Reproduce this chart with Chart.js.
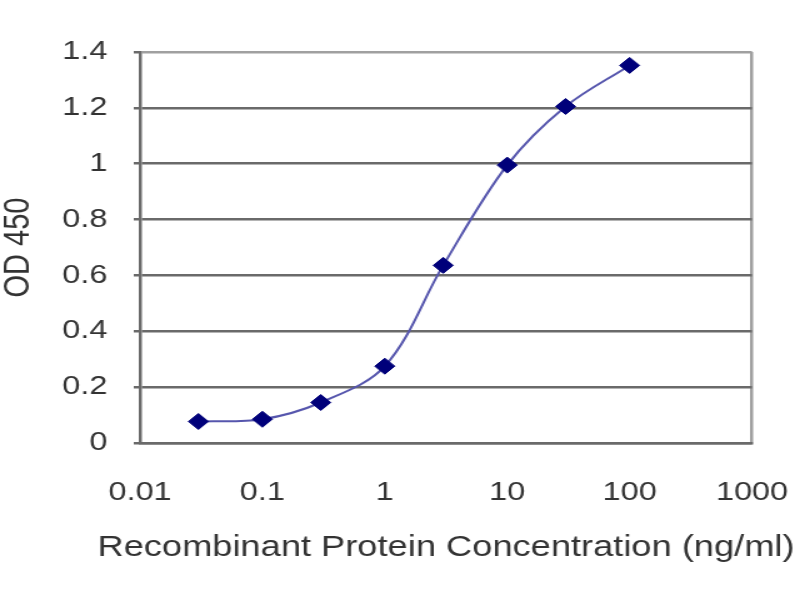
<!DOCTYPE html>
<html>
<head>
<meta charset="utf-8">
<script src="https://cdn.jsdelivr.net/npm/chart.js@4"></script>
<style>
  html, body { margin: 0; padding: 0; background: #fff; }
</style>
</head>
<body>
<!-- the reference is stretched sideways, so the canvas is drawn narrow and widened by css -->
<canvas id="chart" width="640" height="600" style="display:block;width:800px;height:600px"></canvas>
<script>
// concentration (ng/ml) and OD 450 readings
var concentration = [0.03, 0.1, 0.3, 1, 3, 10, 30, 100];
var od450 = [0.077, 0.085, 0.145, 0.275, 0.636, 0.995, 1.205, 1.352];

// tick labels
var xTicks = [0.01, 0.1, 1, 10, 100, 1000];
var yTicks = [0, 0.2, 0.4, 0.6, 0.8, 1, 1.2, 1.4];

var xTitle = 'Recombinant Protein Concentration (ng/ml)';
var yTitle = 'OD 450';

var gridGray = '#6a6a6a';
var frameGray = '#a0a0a0';
var textGray = '#333333';
var fontFamily = 'Liberation Sans, Arial, sans-serif';

var points = concentration.map(function (c, i) {
    return { x: c, y: od450[i] };
});

// the scale title gets squeezed to the plot width, the reference's is wider,
// so the x title is written here without a max width
var xTitlePlugin = {
    id: 'xTitle',
    afterDraw: function (chart) {
        var area = chart.chartArea;
        var c = chart.ctx;
        c.save();
        c.font = '29px ' + fontFamily;
        c.fillStyle = textGray;
        c.textAlign = 'center';
        c.textBaseline = 'middle';
        c.fillText(xTitle, (area.left + area.right) / 2, area.bottom + 105);
        c.restore();
    }
};

var ctx = document.getElementById('chart').getContext('2d');
var chart = new Chart(ctx, {
    type: 'line',
    data: {
        datasets: [{
            label: yTitle,
            data: points,
            borderColor: '#5656ad',
            borderWidth: 2,
            tension: 0.35,
            pointStyle: 'rectRot',
            pointRadius: 8,
            pointBackgroundColor: '#00007a',
            pointBorderColor: '#00007a',
            pointBorderWidth: 1,
            clip: false
        }]
    },
    plugins: [xTitlePlugin],
    options: {
        responsive: false,
        animation: false,
        devicePixelRatio: 1,
        layout: {
            padding: { left: 0, right: 38.4, top: 52, bottom: 0 }
        },
        plugins: {
            legend: { display: false },
            tooltip: { enabled: false }
        },
        scales: {
            x: {
                type: 'logarithmic',
                min: 0.01,
                max: 1000,
                afterBuildTicks: function (scale) {
                    scale.ticks = xTicks.map(function (v) { return { value: v }; });
                },
                afterFit: function (scale) { scale.height = 157; },
                border: { display: true, color: gridGray, width: 2.5 },
                grid: {
                    color: function (c) {
                        return c.tick && c.tick.value === 1000 ? frameGray : 'rgba(0,0,0,0)';
                    },
                    lineWidth: 2.5,
                    // long invisible ticks push the labels down without widening the right side
                    tickColor: 'rgba(0,0,0,0)',
                    tickLength: 34
                },
                ticks: {
                    autoSkip: false,
                    maxRotation: 0,
                    padding: 0,
                    color: textGray,
                    font: { family: fontFamily, size: 26 },
                    callback: function (value) { return String(value); }
                }
            },
            y: {
                min: 0,
                max: 1.4,
                afterBuildTicks: function (scale) {
                    scale.ticks = yTicks.map(function (v) { return { value: v }; });
                },
                afterFit: function (scale) { scale.width = 112; },
                border: { display: true, color: gridGray, width: 2.5 },
                grid: {
                    color: function (c) {
                        return c.tick && c.tick.value === 1.4 ? frameGray : gridGray;
                    },
                    lineWidth: 2.5,
                    tickColor: gridGray,
                    tickLength: 5
                },
                ticks: {
                    padding: 21,
                    color: textGray,
                    font: { family: fontFamily, size: 26 },
                    callback: function (value) { return String(value); }
                },
                title: {
                    display: true,
                    text: yTitle,
                    color: textGray,
                    font: { family: fontFamily, size: 29, lineHeight: 1 },
                    padding: { top: 0, bottom: 0 }
                }
            }
        }
    }
});
// make sure the sideways stretch survives chart setup
chart.canvas.style.width = '800px';
chart.canvas.style.height = '600px';
</script>
</body>
</html>
